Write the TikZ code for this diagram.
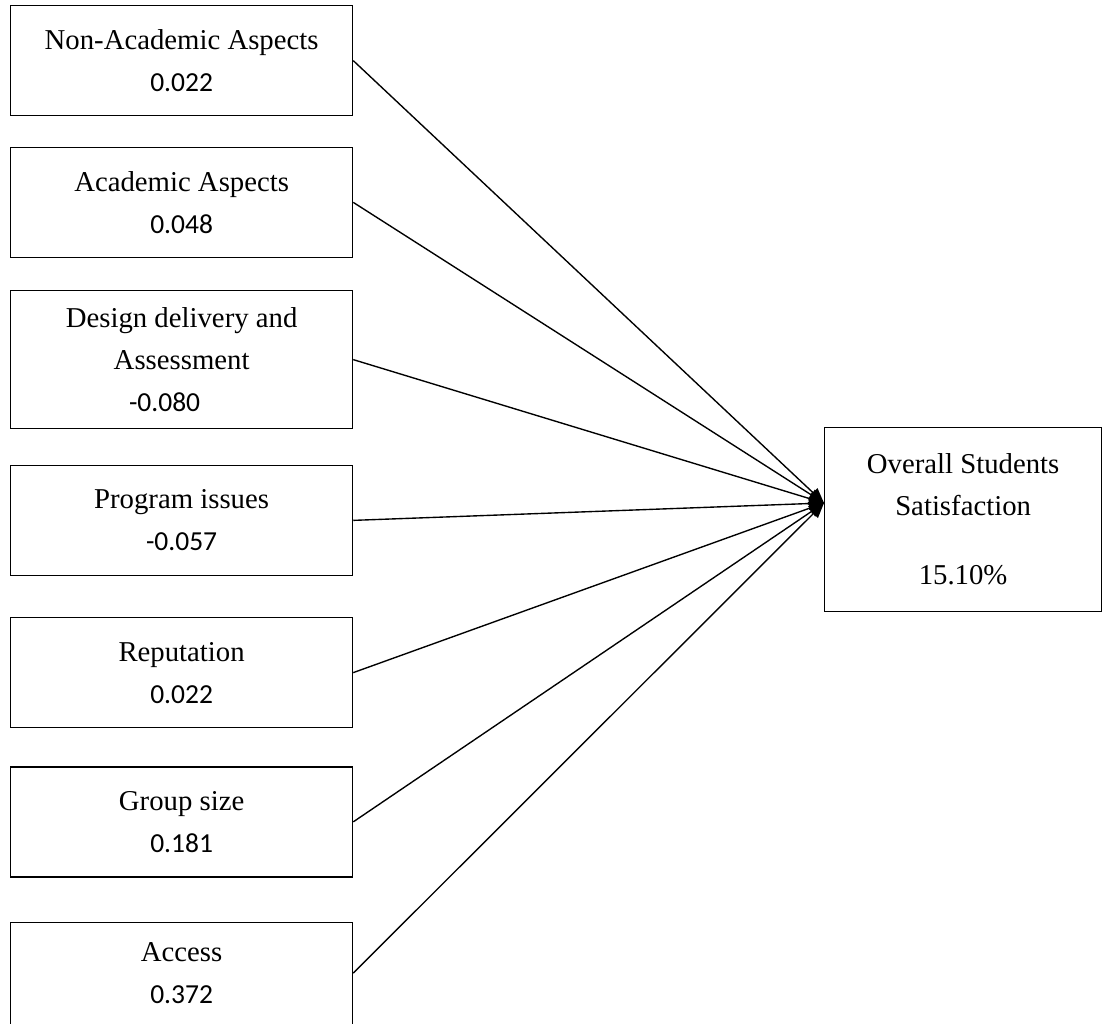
\documentclass[tikz,border=0pt]{standalone}
\usepackage{fontspec}
\setmainfont{Liberation Serif}
\newfontfamily\numfont{Carlito}
\usetikzlibrary{shapes,positioning,arrows,arrows.meta,calc}
\newcommand{\coef}[1]{{\numfont\fontsize{11}{16.8}\selectfont #1}}

\begin{document}
\begin{tikzpicture}[x=0.4pt,y=-0.4pt]

	\tikzstyle{factorbox}=[draw, rectangle, line width=0.5pt, inner sep=0pt, minimum width=136.8pt, minimum height=44pt, align=center, font=\fontsize{11.5}{16.8}\selectfont];
	\tikzstyle{outcomebox}=[factorbox, minimum width=110.8pt, minimum height=73.6pt];
	\useasboundingbox (0,0) rectangle (1102,1024);
    \begin{scope}[>={Triangle[length=6pt, width=5pt]}, line width=0.55pt]

    	\node (non_academic) at (10,5) [anchor=north west, factorbox]{Non-Academic Aspects\\\coef{0.022}};
    	\node (academic) [below = 12.2pt of non_academic, factorbox]{Academic Aspects\\\coef{0.048}};
    	\node (design) [below = 12.8pt of academic, factorbox, minimum height=55.2pt]{Design delivery and\\Assessment\\\coef{-0.080}\hspace*{13.6pt}};
    	\node (program) [below = 14.2pt of design, factorbox]{Program issues\\\coef{-0.057}};
    	\node (reputation) [below = 16.4pt of program, factorbox]{Reputation\\\coef{0.022}};
    	\node (group_size) [below = 15.2pt of reputation, factorbox]{Group size\\\coef{0.181}};
    	\node (access) [below = 17.6pt of group_size, factorbox, minimum height=40.8pt]{Access\\\coef{0.372}};

    	\node (overall) at (824,427) [anchor=north west, outcomebox]{Overall Students\\Satisfaction\\[10.8pt]15.10\%};
    	\coordinate (tip) at (824,503);

    	\draw[->] (non_academic.east) -- (tip);
    	\draw[->] (academic.east) -- (tip);
    	\draw[->] (design.east) -- (tip);
    	\draw[->] (program.east) -- (tip);
    	\draw[->] (reputation.east) -- (tip);
    	\draw[->] (group_size.east) -- (tip);
    	\draw[->] (access.east) -- (tip);

    \end{scope}
\end{tikzpicture}
\end{document}
